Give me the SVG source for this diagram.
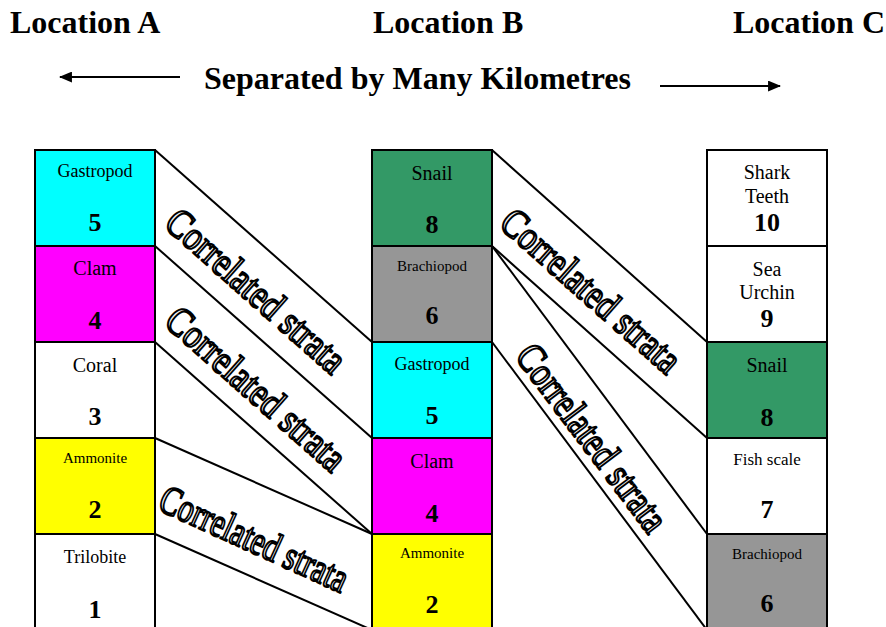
<svg xmlns="http://www.w3.org/2000/svg" width="886" height="627" viewBox="0 0 886 627">
  <style>
    .head { font-family: "Liberation Serif", "Times New Roman", serif; font-weight: bold; font-size: 32px; fill: #000; }
    .box { stroke: #000; stroke-width: 2; }
    .lbl { font-family: "Liberation Serif", "Times New Roman", serif; fill: #000; text-anchor: middle; }
    .num { font-family: "Liberation Serif", "Times New Roman", serif; font-weight: bold; font-size: 26px; fill: #000; text-anchor: middle; }
    .band { stroke: #000; stroke-width: 2; fill: none; }
    .corr { font-family: "Liberation Serif", "Times New Roman", serif; font-size: 34px; text-anchor: middle; fill: #f2f2f2; stroke: #000; stroke-width: 1.8; stroke-linejoin: round; }
    .cyan { fill: #00ffff; }
    .mag { fill: #ff00ff; }
    .white { fill: #ffffff; }
    .yel { fill: #ffff00; }
    .green { fill: #339966; }
    .grey { fill: #969696; }
  </style>
  <defs>
    <marker id="head" viewBox="0 0 12 10" refX="11" refY="5" markerWidth="13" markerHeight="11" markerUnits="userSpaceOnUse" orient="auto">
      <path d="M0,0 L12,5 L0,10 Z" fill="#000"/>
    </marker>
  </defs>

  <rect width="886" height="627" fill="#fff"/>

  <!-- titles -->
  <g id="titles">
    <text class="head" x="10" y="33">Location A</text>
    <text class="head" x="373" y="33">Location B</text>
    <text class="head" x="733" y="33">Location C</text>
    <text class="head" x="204" y="89">Separated by Many Kilometres</text>
    <line x1="180" y1="77" x2="60" y2="77" stroke="#000" stroke-width="2" marker-end="url(#head)"/>
    <line x1="660" y1="86" x2="780" y2="86" stroke="#000" stroke-width="2" marker-end="url(#head)"/>
  </g>

  <!-- correlation bands between columns -->
  <g id="connectors">
    <line class="band" x1="155" y1="150" x2="372" y2="342"/>
    <line class="band" x1="155" y1="246" x2="372" y2="438"/>
    <line class="band" x1="155" y1="342" x2="372" y2="534"/>
    <line class="band" x1="155" y1="438" x2="372" y2="534"/>
    <line class="band" x1="155" y1="534" x2="372" y2="630"/>
    <line class="band" x1="492" y1="150" x2="707" y2="342"/>
    <line class="band" x1="492" y1="246" x2="707" y2="438"/>
    <line class="band" x1="492" y1="246" x2="707" y2="534"/>
    <line class="band" x1="492" y1="342" x2="707" y2="630"/>
    <text class="corr" transform="translate(256,291) rotate(41.5) scale(1,1.2)" y="11" textLength="226" lengthAdjust="spacingAndGlyphs">Correlated strata</text>
    <text class="corr" transform="translate(256,389) rotate(41.5) scale(1,1.2)" y="11" textLength="226" lengthAdjust="spacingAndGlyphs">Correlated strata</text>
    <text class="corr" transform="translate(254,539) rotate(24.5) scale(1,1.2)" y="11" textLength="203" lengthAdjust="spacingAndGlyphs">Correlated strata</text>
    <text class="corr" transform="translate(591,291) rotate(41.5) scale(1,1.2)" y="11" textLength="226" lengthAdjust="spacingAndGlyphs">Correlated strata</text>
    <text class="corr" transform="translate(592,438) rotate(53) scale(1,1.2)" y="11" textLength="224" lengthAdjust="spacingAndGlyphs">Correlated strata</text>
  </g>

  <!-- Location A column -->
  <g id="a5"><rect class="box cyan" x="35" y="150" width="120" height="96"/><text class="lbl" x="95" y="177" font-size="18">Gastropod</text><text class="num" x="95" y="231">5</text></g>
  <g id="a4"><rect class="box mag" x="35" y="246" width="120" height="96"/><text class="lbl" x="95" y="275" font-size="20">Clam</text><text class="num" x="95" y="329">4</text></g>
  <g id="a3"><rect class="box white" x="35" y="342" width="120" height="96"/><text class="lbl" x="95" y="372" font-size="20">Coral</text><text class="num" x="95" y="425">3</text></g>
  <g id="a2"><rect class="box yel" x="35" y="438" width="120" height="96"/><text class="lbl" x="95" y="463" font-size="15">Ammonite</text><text class="num" x="95" y="518">2</text></g>
  <g id="a1"><rect class="box white" x="35" y="534" width="120" height="96"/><text class="lbl" x="95" y="563" font-size="18">Trilobite</text><text class="num" x="95" y="618">1</text></g>

  <!-- Location B column -->
  <g id="b8"><rect class="box green" x="372" y="150" width="120" height="96"/><text class="lbl" x="432" y="180" font-size="20">Snail</text><text class="num" x="432" y="233">8</text></g>
  <g id="b6"><rect class="box grey" x="372" y="246" width="120" height="96"/><text class="lbl" x="432" y="271" font-size="15">Brachiopod</text><text class="num" x="432" y="324">6</text></g>
  <g id="b5"><rect class="box cyan" x="372" y="342" width="120" height="96"/><text class="lbl" x="432" y="370" font-size="18">Gastropod</text><text class="num" x="432" y="424">5</text></g>
  <g id="b4"><rect class="box mag" x="372" y="438" width="120" height="96"/><text class="lbl" x="432" y="468" font-size="20">Clam</text><text class="num" x="432" y="522">4</text></g>
  <g id="b2"><rect class="box yel" x="372" y="534" width="120" height="96"/><text class="lbl" x="432" y="558" font-size="15">Ammonite</text><text class="num" x="432" y="613">2</text></g>

  <!-- Location C column -->
  <g id="c10"><rect class="box white" x="707" y="150" width="120" height="96"/><text class="lbl" x="767" y="179" font-size="20">Shark</text><text class="lbl" x="767" y="203" font-size="20">Teeth</text><text class="num" x="767" y="231">10</text></g>
  <g id="c9"><rect class="box white" x="707" y="246" width="120" height="96"/><text class="lbl" x="767" y="276" font-size="20">Sea</text><text class="lbl" x="767" y="299" font-size="20">Urchin</text><text class="num" x="767" y="327">9</text></g>
  <g id="c8"><rect class="box green" x="707" y="342" width="120" height="96"/><text class="lbl" x="767" y="372" font-size="20">Snail</text><text class="num" x="767" y="426">8</text></g>
  <g id="c7"><rect class="box white" x="707" y="438" width="120" height="96"/><text class="lbl" x="767" y="465" font-size="17">Fish scale</text><text class="num" x="767" y="518">7</text></g>
  <g id="c6"><rect class="box grey" x="707" y="534" width="120" height="96"/><text class="lbl" x="767" y="559" font-size="15">Brachiopod</text><text class="num" x="767" y="612">6</text></g>
</svg>
